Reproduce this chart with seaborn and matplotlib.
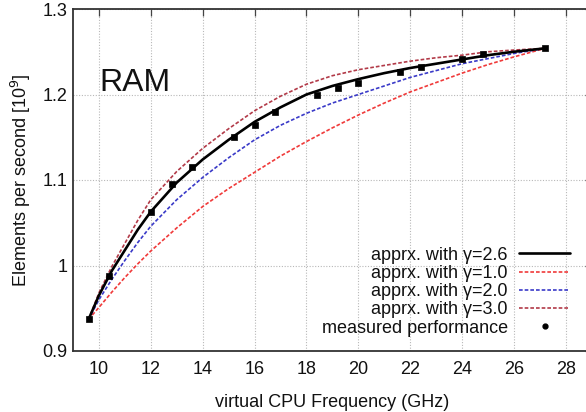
import numpy as np
import pandas as pd
import matplotlib
matplotlib.use("Agg")
import matplotlib.pyplot as plt
from matplotlib.lines import Line2D
import seaborn as sns

# measured performance
freq_meas = [9.6, 10.4, 12.0, 12.8, 13.6, 15.2, 16.0, 16.8, 18.4, 19.2, 20.0, 21.6, 22.4, 24.0, 24.8, 27.2]
perf_meas = [0.937, 0.988, 1.063, 1.095, 1.1155, 1.150, 1.164, 1.179, 1.200, 1.208, 1.214, 1.226, 1.232, 1.241, 1.2475, 1.254]

# approximation curves
freq_curve = [9.6, 10, 10.5, 11, 11.5, 12, 13, 14, 15, 16, 17, 18, 19, 20, 21, 22, 23, 24, 25, 26, 27.2]
gamma_26 = [0.937, 0.965, 0.994, 1.018, 1.042, 1.063, 1.097, 1.124, 1.147, 1.168, 1.185, 1.200, 1.210, 1.218, 1.225, 1.231, 1.236, 1.241, 1.246, 1.250, 1.254]
gamma_10 = [0.937, 0.951, 0.969, 0.986, 1.002, 1.017, 1.044, 1.069, 1.090, 1.109, 1.128, 1.145, 1.161, 1.176, 1.190, 1.203, 1.214, 1.225, 1.235, 1.244, 1.254]
gamma_20 = [0.937, 0.960, 0.984, 1.006, 1.027, 1.046, 1.077, 1.103, 1.126, 1.147, 1.164, 1.178, 1.190, 1.200, 1.210, 1.220, 1.228, 1.236, 1.242, 1.248, 1.254]
gamma_30 = [0.937, 0.968, 0.999, 1.026, 1.053, 1.077, 1.110, 1.137, 1.160, 1.181, 1.198, 1.212, 1.222, 1.229, 1.234, 1.239, 1.243, 1.246, 1.250, 1.252, 1.254]

labels = ["apprx. with \u03b3=2.6", "apprx. with \u03b3=1.0", "apprx. with \u03b3=2.0",
          "apprx. with \u03b3=3.0", "measured performance"]
x_ticks = [10, 12, 14, 16, 18, 20, 22, 24, 26, 28]
y_ticks = [0.9, 1.0, 1.1, 1.2, 1.3]
y_tick_labels = ["0.9", "1", "1.1", "1.2", "1.3"]

sns.set_style("white")
plt.rcParams["font.family"] = ["Liberation Sans", "DejaVu Sans"]

fig = plt.figure(figsize=(5.86, 4.12), dpi=100)
ax = fig.add_axes([73 / 586, 61 / 412, 518.8 / 586, 342 / 412])

red = "#f03a3a"
blue = "#3a3ac8"
dred = "#b23a48"
dash = (0, (2.2, 1.2))

sns.lineplot(x=freq_curve, y=gamma_10, ax=ax, color=red, linewidth=1.2, linestyle=dash, zorder=3)
sns.lineplot(x=freq_curve, y=gamma_20, ax=ax, color=blue, linewidth=1.2, linestyle=dash, zorder=3)
sns.lineplot(x=freq_curve, y=gamma_30, ax=ax, color=dred, linewidth=1.2, linestyle=dash, zorder=3)
sns.lineplot(x=freq_curve, y=gamma_26, ax=ax, color="black", linewidth=1.9, zorder=4)
sns.scatterplot(x=freq_meas, y=perf_meas, ax=ax, color="black", marker="s", s=22,
                edgecolor="black", linewidth=0.5, zorder=5)

ax.set_xlim(9, 29)
ax.set_ylim(0.9, 1.3)
ax.set_xticks(x_ticks)
ax.set_xticklabels([str(t) for t in x_ticks])
ax.set_yticks(y_ticks)
ax.set_yticklabels(y_tick_labels)
ax.set_yticks(np.arange(0.9, 1.3001, 0.02), minor=True)

ax.grid(True, which="major", color="#b8b8b8", linestyle=(0, (1, 1.5)), linewidth=0.8)
ax.set_axisbelow(True)
for s in ax.spines.values():
    s.set_color("#333333")
    s.set_linewidth(1.3)
ax.tick_params(which="both", direction="in", top=True, right=True, color="#444444",
               labelsize=13, labelcolor="#111111")
ax.tick_params(which="major", length=5, width=0.9)
ax.tick_params(axis="x", which="major", pad=7)
ax.tick_params(axis="y", which="major", pad=4)
ax.tick_params(which="minor", length=3, width=0.8)
ax.tick_params(axis="x", which="minor", bottom=False, top=False)

ax.set_xlabel("virtual CPU Frequency (GHz)", fontsize=13, labelpad=12, color="#111111")
ax.set_ylabel("Elements per second [10$^9$]", fontsize=13, labelpad=7, color="#111111")

ax.text(10, 1.204, "RAM", fontsize=23, va="baseline", ha="left", color="#111111")

handles = [
    Line2D([], [], color="black", linewidth=1.9),
    Line2D([], [], color=red, linewidth=1.2, linestyle=dash),
    Line2D([], [], color=blue, linewidth=1.2, linestyle=dash),
    Line2D([], [], color=dred, linewidth=1.2, linestyle=dash),
    Line2D([], [], color="black", marker="o", markersize=3.5, linestyle="none"),
]
ax.legend(handles=handles, labels=labels, loc="lower right", bbox_to_anchor=(0.958, 0.042),
          frameon=False, markerfirst=False, fontsize=13, labelspacing=0.07,
          handlelength=2.8, handletextpad=0.65, borderpad=0, borderaxespad=0,
          labelcolor="#111111")

fig.savefig("out.png", dpi=100)
